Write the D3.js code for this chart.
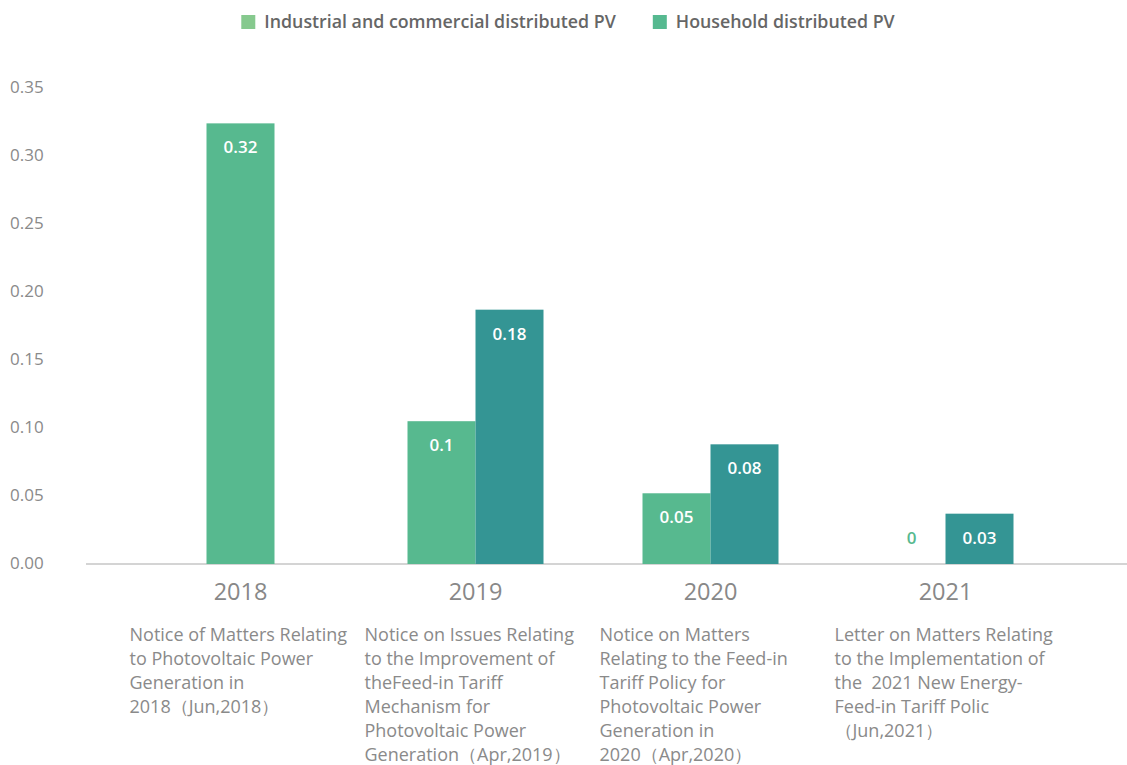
<!DOCTYPE html>
<html lang="en">

<head>
    <meta charset="UTF-8">
    <title>Distributed PV Feed-in Tariff</title>
    <script src="https://d3js.org/d3.v7.min.js"></script>
    <style>
        body {
            margin: 0;
            background: #fff;
            font-family: "Open Sans", sans-serif;
        }

        .tick-label {
            fill: #8a8a8a;
            font-size: 17px;
        }

        .year-label {
            fill: #888;
            font-size: 23.5px;
        }

        .note {
            fill: #8a8a8a;
            font-size: 18px;
        }

        .legend-text {
            fill: #666;
            font-size: 17.8px;
            font-weight: 600;
        }

        .bar-label {
            fill: #fff;
            font-size: 17px;
            font-weight: 600;
        }
    </style>
</head>

<body>
    <svg id="chart" width="1127" height="765"></svg>
    <script>
        // data
        let years = ["2018", "2019", "2020", "2021"]
        let seriesNames = ["Industrial and commercial distributed PV", "Household distributed PV"]
        let industrial = [0.324, 0.105, 0.052, 0]
        let household = [null, 0.187, 0.088, 0.037]
        let industrialLabels = ["0.32", "0.1", "0.05", "0"]
        let householdLabels = [null, "0.18", "0.08", "0.03"]
        let yTicks = [0, 0.05, 0.10, 0.15, 0.20, 0.25, 0.30, 0.35]
        let notes = [
            ["Notice of Matters Relating", "to Photovoltaic Power", "Generation in", "2018（Jun,2018）"],
            ["Notice on Issues Relating", "to the Improvement of", "theFeed-in Tariff", "Mechanism for", "Photovoltaic Power", "Generation（Apr,2019）"],
            ["Notice on Matters", "Relating to the Feed-in", "Tariff Policy for", "Photovoltaic Power", "Generation in", "2020（Apr,2020）"],
            ["Letter on Matters Relating", "to the Implementation of", "the  2021 New Energy-", "Feed-in Tariff Polic", "（Jun,2021）"]
        ]

        let barColors = ["#57b98f", "#349594"]
        let legendColors = ["#86c98e", "#56b990"]

        let svg = d3.select("#chart")
        let baseY = 564

        let y = d3.scaleLinear().domain([0, 0.35]).range([baseY, baseY - 0.35 * 1360])
        let x0 = d3.scaleBand().domain(years).range([123, 1063])
        let barW = 68

        // y tick labels, no axis line
        svg.append("g").selectAll("text")
            .data(yTicks)
            .enter()
            .append("text")
            .attr("class", "tick-label")
            .attr("x", 10)
            .attr("y", d => y(d))
            .attr("dy", "0.32em")
            .text(d => d3.format(".2f")(d))

        // baseline
        svg.append("line")
            .attr("x1", 86).attr("x2", 1127)
            .attr("y1", baseY).attr("y2", baseY)
            .attr("stroke", "#aaa")
            .attr("stroke-width", 1.2)

        // build bars
        let bars = []
        years.forEach(function (yr, i) {
            let vals = [industrial[i], household[i]]
            let labs = [industrialLabels[i], householdLabels[i]]
            let present = vals.map((v, k) => k).filter(k => vals[k] !== null)
            let cx = x0(yr) + x0.bandwidth() / 2
            let startX = cx - present.length * barW / 2
            present.forEach(function (k, j) {
                bars.push({ year: yr, series: k, value: vals[k], label: labs[k], x: startX + j * barW })
            })
        })

        let barG = svg.append("g")
        barG.selectAll("rect")
            .data(bars)
            .enter()
            .append("rect")
            .attr("x", d => d.x)
            .attr("width", barW)
            .attr("y", d => y(d.value))
            .attr("height", d => baseY - y(d.value))
            .attr("fill", d => barColors[d.series])

        barG.selectAll("text")
            .data(bars)
            .enter()
            .append("text")
            .attr("class", "bar-label")
            .attr("text-anchor", "middle")
            .attr("x", d => d.x + barW / 2)
            .attr("y", d => d.value > 0 ? y(d.value) + 24 : y(d.value) - 26)
            .attr("dy", "0.35em")
            .style("fill", d => d.value > 0 ? "#fff" : barColors[d.series])
            .text(d => d.label)

        // year labels
        svg.append("g").selectAll("text")
            .data(years)
            .enter()
            .append("text")
            .attr("class", "year-label")
            .attr("text-anchor", "middle")
            .attr("x", d => x0(d) + x0.bandwidth() / 2)
            .attr("y", 592)
            .attr("dy", "0.35em")
            .text(d => d)

        // notes under each year
        let noteG = svg.append("g").selectAll("text")
            .data(notes)
            .enter()
            .append("text")
            .attr("class", "note")
            .attr("x", (d, i) => x0(years[i]) + x0.bandwidth() / 2 - 111)
            .attr("y", 635)
            .attr("dy", "0.35em")
        noteG.each(function (lines, i) {
            let t = d3.select(this)
            let nx = t.attr("x")
            lines.forEach(function (ln, j) {
                t.append("tspan")
                    .attr("x", nx)
                    .attr("y", 635 + j * 24)
                    .attr("dy", "0.35em")
                    .style("white-space", "pre")
                    .text(ln)
            })
        })

        // legend
        let legend = svg.append("g")
        let lx = 0
        seriesNames.forEach(function (name, i) {
            let item = legend.append("g").attr("transform", `translate(${lx},0)`)
            item.append("rect")
                .attr("x", 0).attr("y", 15)
                .attr("width", 14).attr("height", 14)
                .attr("fill", legendColors[i])
            let txt = item.append("text")
                .attr("class", "legend-text")
                .attr("x", 23)
                .attr("y", 22)
                .attr("dy", "0.35em")
                .text(name)
            lx += 23 + txt.node().getComputedTextLength() + 37
        })
        let legendW = lx - 37
        legend.attr("transform", `translate(${568 - legendW / 2},0)`)
    </script>
</body>

</html>
